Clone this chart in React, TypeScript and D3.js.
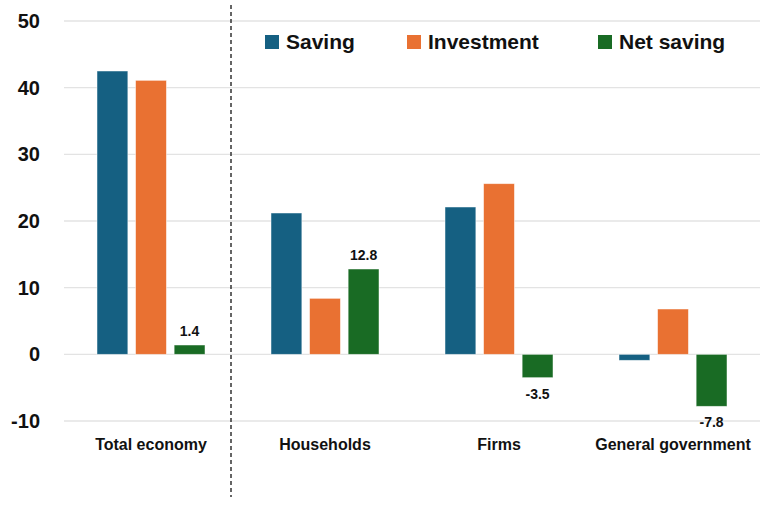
import React from "react";
import * as d3 from "d3";

const categories = ["Total economy", "Households", "Firms", "General government"];
const seriesNames = ["Saving", "Investment", "Net saving"];
const saving = [42.5, 21.2, 22.1, -0.9];
const investment = [41.1, 8.4, 25.6, 6.8];
const netSaving = [1.4, 12.8, -3.5, -7.8];
const yTicks = [-10, 0, 10, 20, 30, 40, 50];
const colors = ["#156082", "#E97132", "#196B24"];

export default function App() {
  const W = 771, H = 507;
  const left = 64, right = 760, top = 21, bottom = 421;
  const y = d3.scaleLinear().domain([-10, 50]).range([bottom, top]);
  const x = d3.scaleBand<string>().domain(categories).range([left, right]).paddingInner(0).paddingOuter(0);
  const groupW = 108;
  const inner = d3.scaleBand<string>().domain(seriesNames).range([0, groupW]).paddingInner(0.2).paddingOuter(0);
  const data = [saving, investment, netSaving];
  const font = "'Liberation Sans', Arial, sans-serif";
  const legendX = [265, 407, 598];

  return (
    <svg width={W} height={H} style={{ position: "absolute", left: 0, top: 0, background: "#fff" }}>
      {yTicks.map((t) => (
        <g key={t}>
          <line x1={left} x2={right} y1={y(t)} y2={y(t)} stroke="#e3e3e3" strokeWidth={1.3} />
          <text x={40} y={y(t)} dy="0.35em" textAnchor="end" fontFamily={font} fontWeight="bold" fontSize={20} fill="#111">
            {t}
          </text>
        </g>
      ))}
      <line x1={231} x2={231} y1={5} y2={497} stroke="#333" strokeWidth={1.5} strokeDasharray="4,3" />
      {categories.map((c, ci) => {
        const gx = (x(c) as number) + (x.bandwidth() - groupW) / 2;
        return (
          <g key={c}>
            {data.map((arr, si) => {
              const v = arr[ci];
              const bx = gx + (inner(seriesNames[si]) as number);
              const y0 = y(0), y1 = y(v);
              return (
                <rect key={si} x={bx} y={Math.min(y0, y1)} width={inner.bandwidth()} height={Math.abs(y1 - y0)}
                  fill={colors[si]} stroke="#ffffff" strokeOpacity={0.6} strokeWidth={0.8} />
              );
            })}
            {(() => {
              const v = netSaving[ci];
              const bx = gx + (inner(seriesNames[2]) as number) + inner.bandwidth() / 2;
              const ly = v >= 0 ? y(v) - 9 : y(v) + 21;
              return (
                <text x={bx} y={ly} textAnchor="middle" fontFamily={font} fontWeight="bold" fontSize={14} fill="#111">
                  {v.toFixed(1)}
                </text>
              );
            })()}
            <text x={(x(c) as number) + x.bandwidth() / 2} y={450} textAnchor="middle" fontFamily={font} fontWeight="bold" fontSize={16} fill="#111">
              {c}
            </text>
          </g>
        );
      })}
      {seriesNames.map((s, i) => (
        <g key={s}>
          <rect x={legendX[i]} y={35} width={14} height={14} fill={colors[i]} />
          <text x={legendX[i] + 21} y={42} dy="0.35em" fontFamily={font} fontWeight="bold" fontSize={21} fill="#111">
            {s}
          </text>
        </g>
      ))}
    </svg>
  );
}
